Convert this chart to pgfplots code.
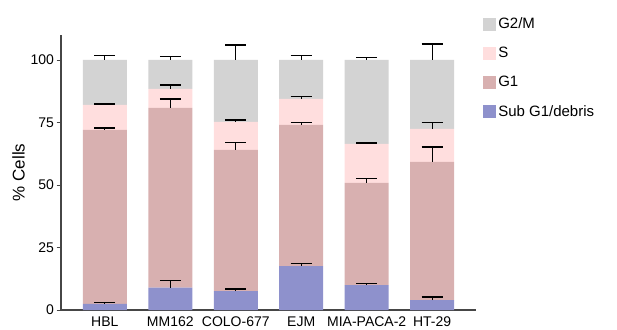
\documentclass[border=0pt]{standalone}
\usepackage{fontspec}
\setmainfont{Liberation Sans}
\usepackage{pgfplots}
\pgfplotsset{compat=1.18}
\definecolor{cG2}{RGB}{211,211,211}
\definecolor{cS}{RGB}{255,222,222}
\definecolor{cG1}{RGB}{216,176,176}
\definecolor{cSub}{RGB}{142,145,204}
\definecolor{axgray}{RGB}{70,70,70}
\pgfplotsset{
  base/.style={
    at={(61pt,19pt)}, anchor=south west,
    scale only axis, width=415pt, height=275pt,
    xmin=-0.67, xmax=5.67, ymin=0, ymax=110,
  }
}
\begin{document}
\begin{tikzpicture}
\path[use as bounding box] (0,0) rectangle (617pt,329pt);
\begin{axis}[base,
  ybar stacked, bar width=44pt,
  axis lines=left, axis line style={-, axgray, line width=1.3pt},
  xtick={0,1,2,3,4,5},
  xticklabels={HBL,MM162,COLO-677,EJM,MIA-PACA-2,HT-29},
  ytick={0,25,50,75,100},
  ytick style={axgray, line width=0.9pt},
  xtick style={draw=none},
  tick align=outside, major tick length=4.5pt,
  /pgf/number format/assume math mode=true,
  ticklabel style={font=\fontsize{14}{16}\selectfont},
  xticklabel style={yshift=1pt},
  yticklabel style={xshift=1pt},
  ylabel={\% Cells},
  ylabel style={font=\fontsize{17}{19}\selectfont, yshift=-1pt},
  legend style={draw=none, at={(1.017,1.07)}, anchor=north west,
    font=\fontsize{15}{17}\selectfont, row sep=13pt, inner xsep=0pt, inner ysep=0pt,
    legend cell align=left},
  legend image code/.code={\fill[#1] (0pt,-6.5pt) rectangle (13pt,6.5pt);},
  reverse legend,
  clip=false,
]
\addplot[fill=cSub, draw=none] coordinates {(0,2.5) (1,9) (2,7.6) (3,17.6) (4,10) (5,4)};
\addplot[fill=cG1, draw=none] coordinates {(0,69.5) (1,71.8) (2,56.4) (3,56.4) (4,40.8) (5,55.2)};
\addplot[fill=cS, draw=none] coordinates {(0,10) (1,7.6) (2,11.2) (3,10.4) (4,15.6) (5,13.2)};
\addplot[fill=cG2, draw=none] coordinates {(0,18) (1,11.6) (2,24.8) (3,15.6) (4,33.6) (5,27.6)};
\legend{Sub G1/debris,G1,S,G2/M}
\end{axis}
\begin{axis}[base, hide axis, clip=false]
\addplot[draw=none, mark=none,
  error bars/.cd, y dir=plus, y explicit,
  error bar style={draw=black, line width=1.1pt},
  error mark options={draw=black, rotate=90, mark size=10.5pt, line width=1.1pt}]
coordinates {
 (0,2.5) +- (0,0.4) (0,72) +- (0,0.8) (0,82) +- (0,0.4) (0,100) +- (0,1.7)
 (1,9) +- (0,2.7) (1,80.8) +- (0,3.6) (1,88.4) +- (0,1.6) (1,100) +- (0,1.5)
 (2,7.6) +- (0,0.8) (2,64) +- (0,3) (2,75.2) +- (0,0.8) (2,100) +- (0,6)
 (3,17.6) +- (0,0.9) (3,74) +- (0,1) (3,84.4) +- (0,0.9) (3,100) +- (0,1.7)
 (4,10) +- (0,0.5) (4,50.8) +- (0,1.9) (4,66.4) +- (0,0.4) (4,100) +- (0,1)
 (5,4) +- (0,1.2) (5,59.2) +- (0,6) (5,72.4) +- (0,2.6) (5,100) +- (0,6.4)
};
\end{axis}
\end{tikzpicture}
\end{document}
